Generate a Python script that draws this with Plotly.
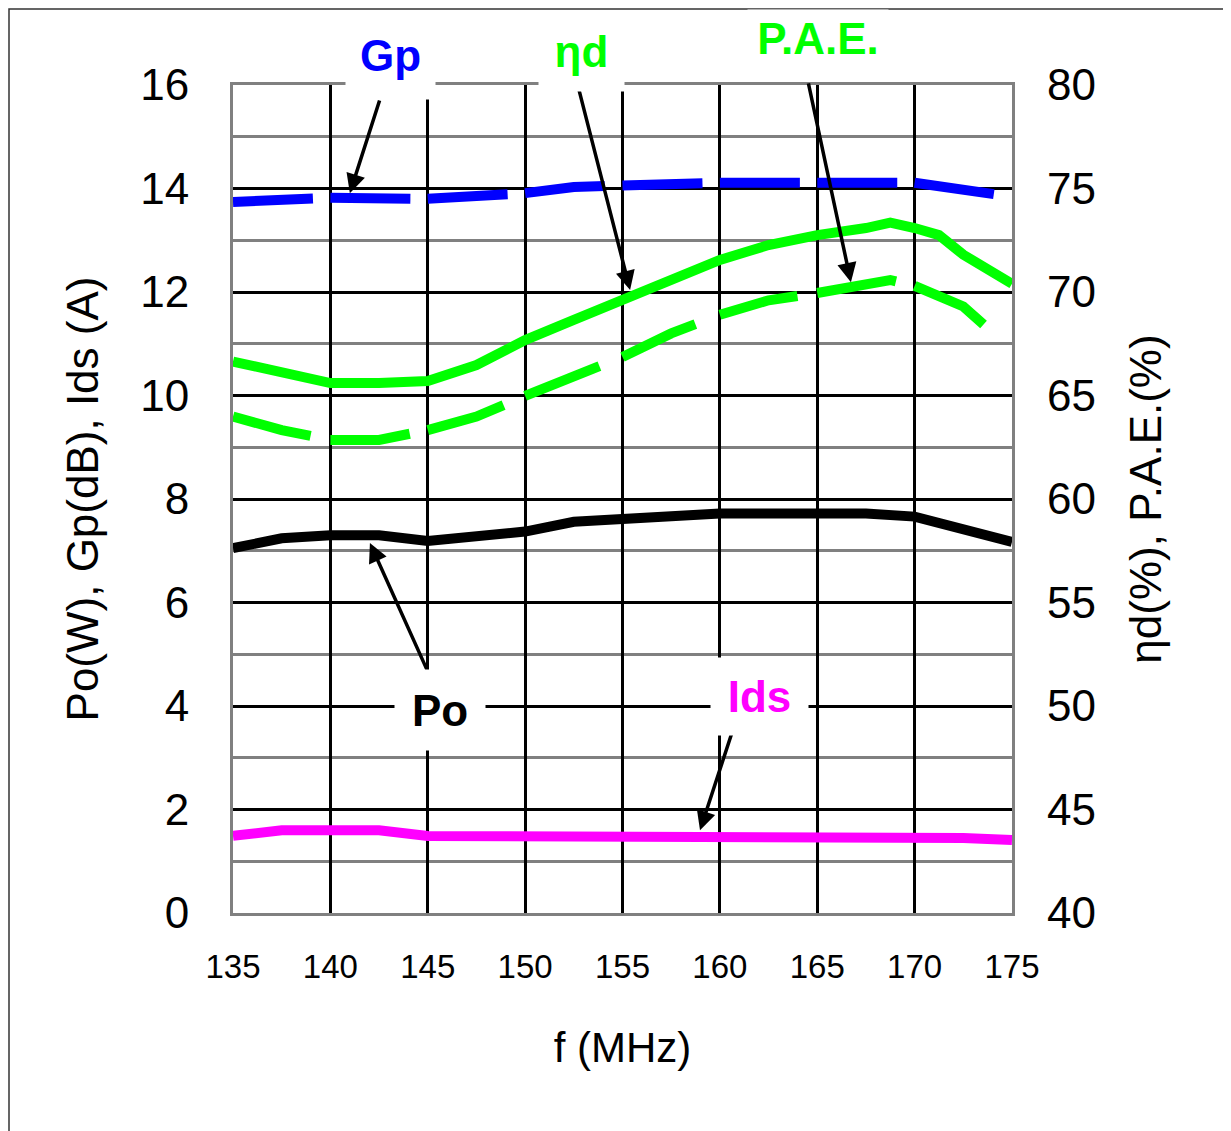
import plotly.graph_objects as go

# ---------------- data ----------------
freq = [135, 137.5, 140, 142.5, 145, 147.5, 150, 152.5, 155, 157.5, 160,
        162.5, 165, 167.5, 170, 172.5, 175]
gp = [13.74, 13.79, 13.82, 13.82, 13.80, 13.85, 13.91, 14.03, 14.06, 14.10,
      14.11, 14.11, 14.11, 14.11, 14.11, 13.97, 13.84]
po = [7.05, 7.24, 7.30, 7.30, 7.19, 7.28, 7.37, 7.56, 7.62, 7.67, 7.72,
      7.72, 7.72, 7.72, 7.66, 7.42, 7.17]
ids = [1.49, 1.60, 1.60, 1.60, 1.49, 1.49, 1.49, 1.49, 1.49, 1.49, 1.49,
       1.49, 1.49, 1.49, 1.49, 1.45, 1.41]

freq_eff = [135, 137.5, 140, 142.5, 145, 147.5, 150, 152.5, 155, 157.5, 160,
            162.5, 165, 167.5, 168.75, 170, 171.25, 172.5, 175]
eta_d = [66.64, 66.15, 65.60, 65.60, 65.70, 66.47, 67.68, 68.65, 69.66, 70.67,
         71.55, 72.27, 72.75, 73.09, 73.35, 73.09, 72.75, 71.80, 70.40]
pae = [63.98, 63.33, 62.85, 62.85, 63.33, 63.98, 64.98, 65.90, 66.86, 68.00,
       68.90, 69.60, 69.95, 70.30, 70.58, 70.30, 69.76, 69.30, 67.20]

x_ticks = [135, 140, 145, 150, 155, 160, 165, 170, 175]
y_left_ticks = [0, 2, 4, 6, 8, 10, 12, 14, 16]
y_right_ticks = [40, 45, 50, 55, 60, 65, 70, 75, 80]

BLUE = "#0000FF"
GREEN = "#00FF00"
MAGENTA = "#FF00FF"
FONT = "Liberation Sans, Arial, sans-serif"

fig = go.Figure()


def dashed_segments(xs, ys, color, yaxis):
    """Excel-like dashes restarting at every 5 MHz gridline."""
    for k in range(len(x_ticks) - 1):
        lo, hi = x_ticks[k], x_ticks[k + 1]
        sx = [x for x in xs if lo <= x <= hi]
        sy = [y for x, y in zip(xs, ys) if lo <= x <= hi]
        fig.add_trace(go.Scatter(
            x=sx, y=sy, mode="lines", yaxis=yaxis, showlegend=False,
            line=dict(color=color, width=10, dash="80px,2000px"),
            hoverinfo="skip"))


# solid lines
fig.add_trace(go.Scatter(x=freq, y=po, mode="lines", showlegend=False,
                         line=dict(color="black", width=10)))
fig.add_trace(go.Scatter(x=freq, y=ids, mode="lines", showlegend=False,
                         line=dict(color=MAGENTA, width=10)))
fig.add_trace(go.Scatter(x=freq_eff, y=eta_d, mode="lines", yaxis="y2",
                         showlegend=False, line=dict(color=GREEN, width=10)))
# dashed lines
dashed_segments(freq, gp, BLUE, "y")
dashed_segments(freq_eff, pae, GREEN, "y2")

# page has an 8px body margin: figure is 8px smaller and shifted
W, H = 1223, 1123
fig.update_layout(
    width=W, height=H,
    margin=dict(l=225, r=219, t=77, b=218),
    paper_bgcolor="white", plot_bgcolor="white",
    font=dict(family=FONT, color="black"),
    showlegend=False,
    xaxis=dict(
        range=[135, 175], tickvals=x_ticks, ticktext=[str(v) for v in x_ticks],
        showgrid=True, gridcolor="black", gridwidth=3,
        showline=True, linecolor="#808080", linewidth=3, mirror=True,
        zeroline=False, ticks="", ticklabelstandoff=22,
        tickfont=dict(size=33, family=FONT),
        title=dict(text="f (MHz)", font=dict(size=42, family=FONT), standoff=50),
    ),
    yaxis=dict(
        range=[0, 16], tickvals=y_left_ticks,
        showgrid=True, gridcolor="black", gridwidth=3,
        minor=dict(dtick=1, showgrid=True, gridcolor="#808080", gridwidth=3),
        showline=True, linecolor="#808080", linewidth=3, mirror=True,
        zeroline=False, ticks="", ticklabelstandoff=32,
        tickfont=dict(size=44, family=FONT),
        title=dict(text="Po(W), Gp(dB), Ids (A)", font=dict(size=44, family=FONT),
                   standoff=28),
    ),
    yaxis2=dict(
        range=[40, 80], tickvals=y_right_ticks, overlaying="y", side="right",
        showgrid=False, zeroline=False, ticks="", ticklabelstandoff=34,
        tickfont=dict(size=44, family=FONT),
        title=dict(text="ηd(%), P.A.E.(%)", font=dict(size=44, family=FONT),
                   standoff=35),
    ),
)

# outer frame of the image
fig.add_shape(type="rect", xref="paper", yref="paper",
              x0=(1 - 225) / 779, x1=2.0, y0=-2.0, y1=(905 - 1) / 828,
              line=dict(color="#333333", width=1.5), fillcolor="rgba(0,0,0,0)",
              layer="above")


def px_to_paper(px, py):
    # page pixel coordinates -> paper coordinates (plot area 233..1012, 85..913)
    return (px - 233) / 779, (913 - py) / 828


# arrows (tip x,y ; tail ax,ay in data coords of left axis)
arrows = [
    (141.0, 13.91, 142.55, 15.73),   # Gp
    (155.39, 12.04, 152.66, 16.06),  # eta_d
    (166.73, 12.19, 164.53, 16.06),  # PAE
    (142.03, 7.15, 145.01, 4.66),    # Po
    (158.98, 1.60, 160.67, 3.54),    # Ids
]
for x, y, ax, ay in arrows:
    fig.add_annotation(x=x, y=y, ax=ax, ay=ay, xref="x", yref="y",
                       axref="x", ayref="y", text="", showarrow=True,
                       arrowhead=2, arrowsize=1.1, arrowwidth=3.5,
                       arrowcolor="black", standoff=0, startstandoff=0)

# labels with white boxes
labels = [
    ("Gp", BLUE, 390, 55, 89, 88),
    ("ηd", GREEN, 581, 51, 85, 80),
    ("P.A.E.", GREEN, 818, 38, 140, 56),
    ("Po", "black", 440, 710, 90, 80),
    ("Ids", MAGENTA, 759, 696, 97, 77),
]
for txt, col, cx, cy, w, h in labels:
    px, py = px_to_paper(cx, cy)
    fig.add_annotation(x=px, y=py, xref="paper", yref="paper",
                       text=f"<b>{txt}</b>", showarrow=False,
                       font=dict(size=44, color=col, family=FONT),
                       bgcolor="white", width=w, height=h, borderpad=0,
                       xanchor="center", yanchor="middle", valign="middle")

fig.write_html("out.html")
